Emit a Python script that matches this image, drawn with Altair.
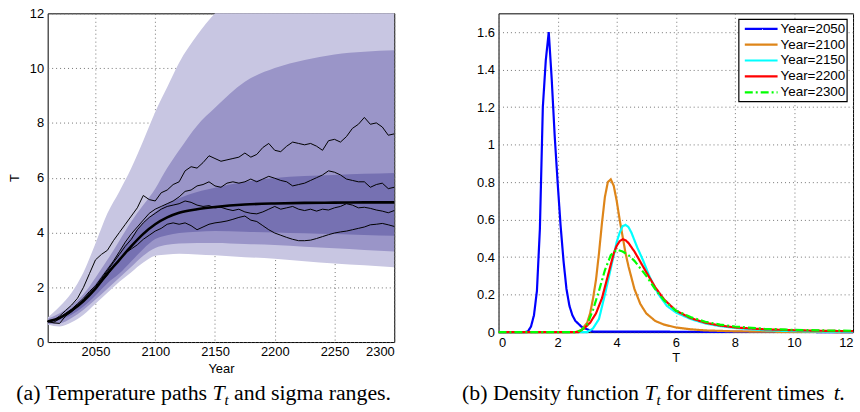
import altair as alt
import pandas as pd

FONT = "Liberation Sans"
SERIF = "Liberation Serif"

# ---------------- left panel data ----------------
band_years = [2010, 2020, 2030, 2040, 2050, 2060, 2070, 2080, 2090, 2100,
              2110, 2120, 2135, 2150, 2175, 2200, 2225, 2250, 2275, 2300]
light_hi = [0.9, 1.3, 1.8, 2.55, 3.6, 4.7, 5.5, 6.35, 7.35, 8.4,
            9.3, 10.2, 11.2, 12.0, 12.8, 13.3, 13.6, 13.8, 13.9, 14.0]
mid_hi = [0.85, 1.05, 1.35, 1.75, 2.35, 3.0, 3.7, 4.4, 5.0, 5.6,
          6.35, 7.0, 7.9, 8.55, 9.5, 10.0, 10.3, 10.5, 10.6, 10.65]
dark_hi = [0.8, 0.93, 1.22, 1.6, 2.12, 2.7, 3.3, 3.85, 4.35, 4.75,
           5.05, 5.25, 5.48, 5.63, 5.85, 5.99, 6.06, 6.1, 6.14, 6.17]
mean_T = [0.75, 0.88, 1.15, 1.5, 1.95, 2.5, 3.0, 3.5, 3.95, 4.3,
          4.55, 4.72, 4.85, 4.93, 5.02, 5.06, 5.08, 5.09, 5.1, 5.1]
dark_lo = [0.7, 0.8, 1.0, 1.3, 1.7, 2.15, 2.5, 2.95, 3.4, 3.76,
           3.9, 3.98, 4.03, 4.05, 4.03, 4.0, 3.97, 3.94, 3.91, 3.88]
mid_lo = [0.66, 0.68, 0.88, 1.18, 1.55, 1.95, 2.35, 2.75, 3.15, 3.43,
          3.55, 3.6, 3.62, 3.62, 3.58, 3.54, 3.48, 3.42, 3.36, 3.31]
light_lo = [0.63, 0.57, 0.72, 1.0, 1.4, 1.8, 2.2, 2.55, 2.9, 3.15,
            3.2, 3.22, 3.2, 3.17, 3.1, 3.04, 2.95, 2.87, 2.8, 2.73]

path_years = list(range(2010, 2301, 5))
path_a = [0.75, 0.8, 0.95, 1.15, 1.35, 1.6, 2.0, 2.5, 3.0, 3.2, 3.35, 3.7, 4.0, 4.3, 4.6, 4.9, 5.35, 5.2, 5.15,
          5.45, 5.55, 5.75, 5.85, 6.25, 6.4, 6.35, 6.55, 6.8, 6.7, 6.6, 6.65, 6.7, 6.75, 6.9, 6.75, 6.85, 7.1, 7.25, 7.0,
          6.95, 7.15, 7.3, 7.25, 7.2, 7.25, 7.15, 7.0, 7.35, 7.4, 7.3, 7.5, 7.8, 7.95, 8.2, 7.95, 8.0, 7.85, 7.55, 7.6]
path_b = [0.75, 0.78, 0.9, 1.05, 1.2, 1.4, 1.6, 1.85, 2.05, 2.35, 2.65, 2.95, 3.3, 3.65, 3.95, 4.2, 4.45, 4.7, 4.85,
          4.95, 5.05, 5.15, 5.3, 5.5, 5.55, 5.7, 5.75, 5.85, 5.7, 5.65, 5.8, 5.85, 5.8, 5.85, 5.95, 5.85, 5.95, 6.05, 5.98,
          5.9, 5.85, 5.7, 5.75, 5.8, 5.9, 6.0, 6.1, 6.25, 6.2, 6.1, 5.95, 5.9, 5.85, 5.85, 5.65, 5.75, 5.8, 5.6, 5.65]
path_c = [0.75, 0.72, 0.85, 1.0, 1.15, 1.35, 1.55, 1.8, 2.0, 2.3, 2.6, 2.9, 3.2, 3.5, 3.75, 4.1, 4.35, 4.55, 4.7,
          4.85, 4.95, 5.0, 5.05, 5.15, 5.1, 5.0, 4.95, 4.98, 4.9, 4.92, 4.85, 4.8, 4.85, 4.75, 4.7, 4.68, 4.75, 4.85, 4.95,
          4.85, 4.9, 4.95, 4.85, 4.8, 4.85, 4.78, 4.85, 4.82, 4.9, 4.95, 5.05, 5.0, 4.9, 4.92, 4.88, 4.82, 4.78, 4.72, 4.8]
path_d = [0.75, 0.7, 0.68, 0.95, 1.1, 1.3, 1.5, 1.7, 1.95, 2.2, 2.45, 2.75, 3.0, 3.25, 3.4, 3.55, 3.75, 3.9, 4.05,
          4.15, 4.3, 4.35, 4.3, 4.35, 4.25, 4.1, 4.2, 4.3, 4.35, 4.38, 4.42, 4.48, 4.55, 4.6, 4.45, 4.4, 4.25, 4.1, 3.98,
          3.9, 3.82, 3.75, 3.7, 3.7, 3.72, 3.78, 3.85, 3.92, 3.98, 4.02, 4.05, 4.1, 4.15, 4.2, 4.28, 4.3, 4.33, 4.28, 4.22]

year_ticks = [2050, 2100, 2150, 2200, 2250, 2300]
temp_ticks = [0, 2, 4, 6, 8, 10, 12]

# ---------------- right panel data ----------------
series_names = ["Year=2050", "Year=2100", "Year=2150", "Year=2200", "Year=2300"]
series_colors = ["#0000FF", "#DE8519", "#00FFFF", "#FF0000", "#00FF00"]
series_dashes = [[1, 0], [1, 0], [1, 0], [1, 0], [8, 3, 2, 3]]

T_2050 = [0, 0.9, 1.0, 1.1, 1.2, 1.3, 1.4, 1.5, 1.6, 1.7, 1.8, 1.9, 2.0, 2.1, 2.2, 2.3, 2.4, 2.5, 2.6, 2.8, 3.0, 3.2, 12]
d_2050 = [0, 0, 0.005, 0.03, 0.09, 0.22, 0.55, 1.2, 1.45, 1.6, 1.35, 1.05, 0.8, 0.57, 0.38, 0.23, 0.14, 0.09, 0.06, 0.03, 0.015, 0.003, 0]
T_2100 = [0, 2.6, 2.8, 3.0, 3.1, 3.2, 3.3, 3.4, 3.5, 3.6, 3.7, 3.8, 3.9, 4.0, 4.1, 4.2, 4.3, 4.4, 4.6, 4.8, 5.0, 5.3, 5.6, 6.0, 6.5, 7.0, 8.0, 9.0, 12]
d_2100 = [0, 0, 0.01, 0.05, 0.1, 0.18, 0.28, 0.42, 0.58, 0.72, 0.8, 0.815, 0.78, 0.7, 0.6, 0.51, 0.42, 0.35, 0.23, 0.15, 0.1, 0.06, 0.04, 0.025, 0.015, 0.009, 0.004, 0.002, 0]
T_2150 = [0, 3.0, 3.2, 3.4, 3.6, 3.8, 4.0, 4.1, 4.2, 4.3, 4.4, 4.5, 4.7, 4.9, 5.1, 5.4, 5.7, 6.0, 6.5, 7.0, 7.5, 8.0, 9.0, 10, 12]
d_2150 = [0, 0, 0.02, 0.07, 0.2, 0.34, 0.48, 0.53, 0.565, 0.572, 0.56, 0.53, 0.45, 0.38, 0.3, 0.205, 0.14, 0.105, 0.07, 0.046, 0.032, 0.022, 0.01, 0.005, 0.001]
T_2200 = [0, 2.7, 2.9, 3.1, 3.3, 3.5, 3.7, 3.9, 4.0, 4.1, 4.2, 4.3, 4.4, 4.6, 4.8, 5.0, 5.3, 5.6, 6.0, 6.5, 7.0, 7.5, 8.0, 9.0, 10, 11, 12]
d_2200 = [0, 0, 0.02, 0.05, 0.1, 0.18, 0.3, 0.42, 0.46, 0.485, 0.495, 0.49, 0.475, 0.43, 0.375, 0.32, 0.24, 0.175, 0.115, 0.075, 0.05, 0.035, 0.025, 0.015, 0.01, 0.007, 0.005]
T_2300 = [0, 2.6, 2.8, 3.0, 3.2, 3.4, 3.6, 3.8, 4.0, 4.2, 4.4, 4.6, 4.8, 5.0, 5.3, 5.6, 6.0, 6.5, 7.0, 7.5, 8.0, 9.0, 10, 11, 12]
d_2300 = [0, 0, 0.01, 0.04, 0.12, 0.22, 0.33, 0.41, 0.44, 0.43, 0.41, 0.38, 0.34, 0.3, 0.23, 0.17, 0.115, 0.08, 0.055, 0.04, 0.03, 0.018, 0.012, 0.009, 0.007]

density_ticks = [0, 0.2, 0.4, 0.6, 0.8, 1.0, 1.2, 1.4, 1.6]
T_ticks = [0, 2, 4, 6, 8, 10, 12]

# ---------------- build tables ----------------
bands = pd.DataFrame({"year": band_years, "lh": light_hi, "ll": light_lo,
                      "mh": mid_hi, "ml": mid_lo, "dh": dark_hi, "dl": dark_lo, "mean": mean_T})
paths = pd.concat([
    pd.DataFrame({"year": path_years, "T": vals, "path": name})
    for name, vals in [("a", path_a), ("b", path_b), ("c", path_c), ("d", path_d)]
])
dens = pd.concat([
    pd.DataFrame({"T": t, "d": d, "series": name})
    for name, t, d in [
        (series_names[0], T_2050, d_2050), (series_names[1], T_2100, d_2100),
        (series_names[2], T_2150, d_2150), (series_names[3], T_2200, d_2200),
        (series_names[4], T_2300, d_2300)]
])
one = pd.DataFrame({"v": [0]})

W1, H1 = 349, 331
W2, H2 = 357, 321

LIGHT, MID, DARK = "#C8C6E2", "#9A95C8", "#7671B2"

xs1 = alt.Scale(domain=[2010, 2300], nice=False, zero=False)
ys1 = alt.Scale(domain=[0, 12], nice=False)

x_axis1 = alt.Axis(values=year_ticks, format="d", title="Year", titlePadding=4)
y_axis1 = alt.Axis(values=temp_ticks, title="T", titlePadding=8)

base1 = alt.Chart(bands)
light = base1.mark_area(color=LIGHT, clip=True, interpolate="monotone").encode(
    x=alt.X("year:Q", scale=xs1, axis=x_axis1),
    y=alt.Y("lh:Q", scale=ys1, axis=y_axis1), y2="ll:Q")
mid = base1.mark_area(color=MID, clip=True, interpolate="monotone").encode(x="year:Q", y="mh:Q", y2="ml:Q")
dark = base1.mark_area(color=DARK, clip=True, interpolate="monotone").encode(x="year:Q", y="dh:Q", y2="dl:Q")
mean_line = base1.mark_line(color="black", strokeWidth=2.6, interpolate="monotone").encode(x="year:Q", y="mean:Q")
path_lines = alt.Chart(paths).mark_line(color="black", strokeWidth=1).encode(
    x="year:Q", y="T:Q", detail="path:N")

CAP = 22
SUB = 15
SP = 5.5


def seg(text, x, y, size=CAP, style="normal", align="left"):
    return alt.Chart(one).mark_text(text=text, font=SERIF, fontSize=size, fontStyle=style,
                                    align=align, baseline="alphabetic", color="black").encode(
        x=alt.value(x), y=alt.value(y))


cap_y = 389
ta = 166
cap_a = [
    seg("(a) Temperature paths", ta - SP, cap_y, align="right"),
    seg("T", ta, cap_y, style="italic"),
    seg("t", ta + 12, cap_y + 5, size=SUB, style="italic"),
    seg("and sigma ranges.", ta + 12 + 4.2 + SP, cap_y),
]

left = alt.layer(light, mid, dark, path_lines, mean_line, *cap_a).properties(width=W1, height=H1)

# ---------------- right panel ----------------
xs2 = alt.Scale(domain=[0, 12], nice=False)
ys2 = alt.Scale(domain=[0, 1.7], nice=False)

lines = alt.Chart(dens).mark_line(strokeWidth=2.2).encode(
    x=alt.X("T:Q", scale=xs2, axis=alt.Axis(values=T_ticks, title="T", titlePadding=3)),
    y=alt.Y("d:Q", scale=ys2, axis=alt.Axis(values=density_ticks, format="~g", title=None)),
    color=alt.Color("series:N", scale=alt.Scale(domain=series_names, range=series_colors), legend=None),
    strokeDash=alt.StrokeDash("series:N", scale=alt.Scale(domain=series_names, range=series_dashes),
                              legend=None),
    order="T:Q",
)

# legend box drawn inside the panel
legend_rows = [15.7, 31.5, 47.5, 63.5, 79.5]
leg = [alt.Chart(one).mark_rect(fill="white", stroke="black", strokeWidth=1.2).encode(
    x=alt.value(242), x2=alt.value(351), y=alt.value(6), y2=alt.value(89))]
for name, col, dash, ry in zip(series_names, series_colors, series_dashes, legend_rows):
    leg.append(alt.Chart(one).mark_rule(color=col, strokeWidth=2.2, strokeDash=dash).encode(
        x=alt.value(248), x2=alt.value(281), y=alt.value(ry)))
    leg.append(alt.Chart(one).mark_text(text=name, font=FONT, fontSize=13.5, align="left",
                                        baseline="middle", color="black").encode(
        x=alt.value(284), y=alt.value(ry)))

tb = 147
tb_rest = tb + 12 + 4.2 + SP
cap_b = [
    seg("(b) Density function", tb - SP, cap_y, align="right"),
    seg("T", tb, cap_y, style="italic"),
    seg("t", tb + 12, cap_y + 5, size=SUB, style="italic"),
    seg("for different times", tb_rest, cap_y),
    seg("t.", tb_rest + 163.4 + SP, cap_y, style="italic"),
]

right = alt.layer(lines, *leg, *cap_b).properties(width=W2, height=H2)

chart = alt.hconcat(left, right, spacing=105, bounds="flush").properties(
    padding={"left": 8, "top": 5, "right": 2, "bottom": 0}
).configure_view(stroke="black", strokeWidth=1).configure_axis(
    labelFont=FONT, labelFontSize=13, labelColor="black", labelPadding=4,
    titleFont=FONT, titleFontSize=13, titleFontWeight="normal", titleColor="black",
    grid=True, gridDash=[1, 3], gridColor="#666666", gridOpacity=0.9,
    domain=False, ticks=False,
)

chart.save("out.html", embed_options={"renderer": "svg", "actions": False})
